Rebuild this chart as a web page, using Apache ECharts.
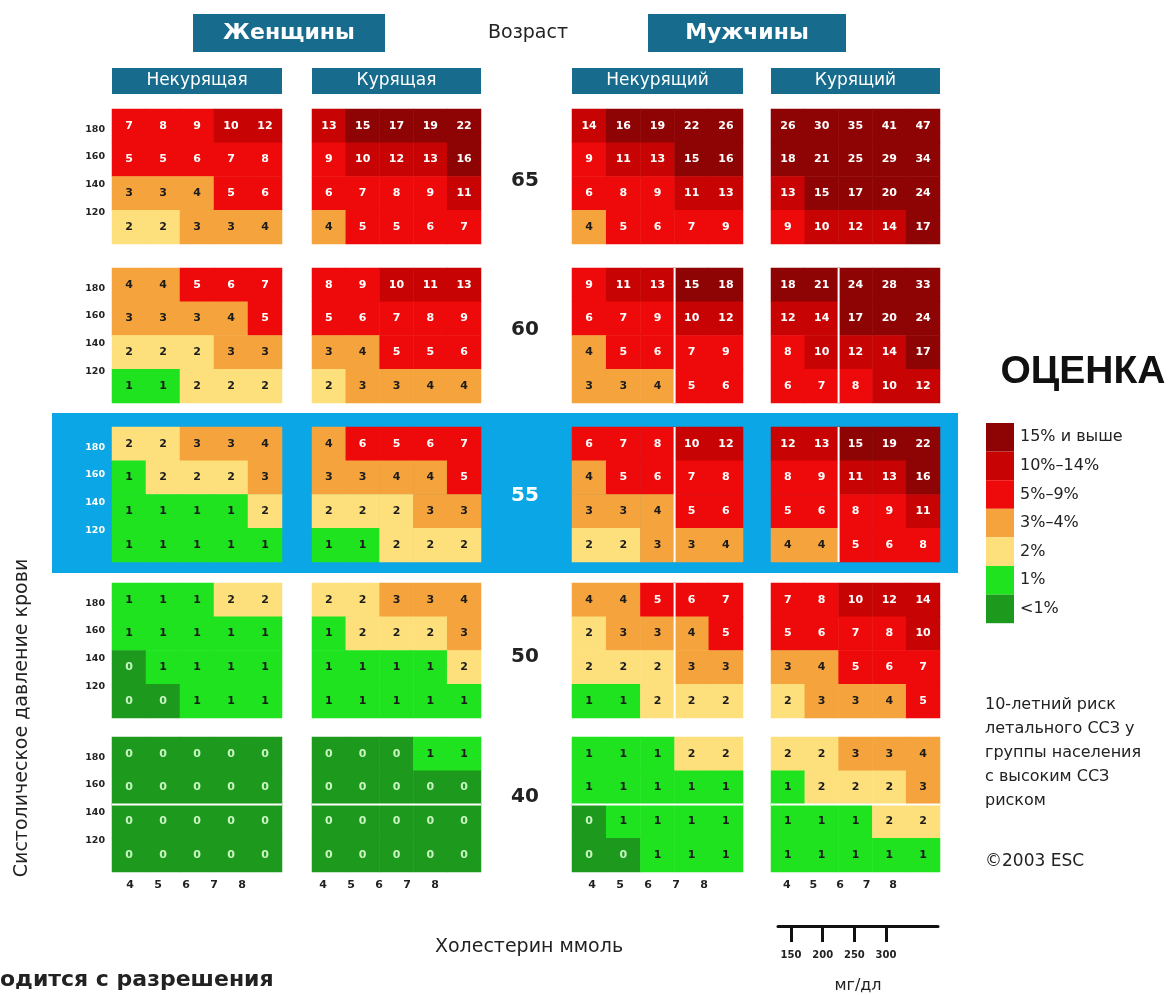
<!DOCTYPE html>
<html><head><meta charset="utf-8">
<script src="https://cdn.jsdelivr.net/npm/echarts@6/dist/echarts.min.js"></script>
<style>html,body{margin:0;padding:0;background:#fff}#c{width:1176px;height:995px}</style>
</head><body><div id="c"></div>
<script>
// ---------- data ----------
const ages = ['65', '60', '55', '50', '40'];
const sbpLevels = [180, 160, 140, 120];
const cholLevels = [4, 5, 6, 7, 8];
const mgdlLevels = [150, 200, 250, 300];
const sexNames = ['Женщины', 'Мужчины'];
const groupNames = ['Некурящая', 'Курящая', 'Некурящий', 'Курящий'];
const riskLabels = ['<1%', '1%', '2%', '3%–4%', '5%–9%', '10%–14%', '15% и выше'];

// rows: SBP 180,160,140,120 ; columns: cholesterol 4..8 ; blocks: ages 65,60,55,50,40
const womenNonSmoker = [
  [[7, 8, 9, 10, 12], [5, 5, 6, 7, 8], [3, 3, 4, 5, 6], [2, 2, 3, 3, 4]],
  [[4, 4, 5, 6, 7], [3, 3, 3, 4, 5], [2, 2, 2, 3, 3], [1, 1, 2, 2, 2]],
  [[2, 2, 3, 3, 4], [1, 2, 2, 2, 3], [1, 1, 1, 1, 2], [1, 1, 1, 1, 1]],
  [[1, 1, 1, 2, 2], [1, 1, 1, 1, 1], [0, 1, 1, 1, 1], [0, 0, 1, 1, 1]],
  [[0, 0, 0, 0, 0], [0, 0, 0, 0, 0], [0, 0, 0, 0, 0], [0, 0, 0, 0, 0]]
];
const womenSmoker = [
  [[13, 15, 17, 19, 22], [9, 10, 12, 13, 16], [6, 7, 8, 9, 11], [4, 5, 5, 6, 7]],
  [[8, 9, 10, 11, 13], [5, 6, 7, 8, 9], [3, 4, 5, 5, 6], [2, 3, 3, 4, 4]],
  [[4, 6, 5, 6, 7], [3, 3, 4, 4, 5], [2, 2, 2, 3, 3], [1, 1, 2, 2, 2]],
  [[2, 2, 3, 3, 4], [1, 2, 2, 2, 3], [1, 1, 1, 1, 2], [1, 1, 1, 1, 1]],
  [[0, 0, 0, 1, 1], [0, 0, 0, 0, 0], [0, 0, 0, 0, 0], [0, 0, 0, 0, 0]]
];
const menNonSmoker = [
  [[14, 16, 19, 22, 26], [9, 11, 13, 15, 16], [6, 8, 9, 11, 13], [4, 5, 6, 7, 9]],
  [[9, 11, 13, 15, 18], [6, 7, 9, 10, 12], [4, 5, 6, 7, 9], [3, 3, 4, 5, 6]],
  [[6, 7, 8, 10, 12], [4, 5, 6, 7, 8], [3, 3, 4, 5, 6], [2, 2, 3, 3, 4]],
  [[4, 4, 5, 6, 7], [2, 3, 3, 4, 5], [2, 2, 2, 3, 3], [1, 1, 2, 2, 2]],
  [[1, 1, 1, 2, 2], [1, 1, 1, 1, 1], [0, 1, 1, 1, 1], [0, 0, 1, 1, 1]]
];
const menSmoker = [
  [[26, 30, 35, 41, 47], [18, 21, 25, 29, 34], [13, 15, 17, 20, 24], [9, 10, 12, 14, 17]],
  [[18, 21, 24, 28, 33], [12, 14, 17, 20, 24], [8, 10, 12, 14, 17], [6, 7, 8, 10, 12]],
  [[12, 13, 15, 19, 22], [8, 9, 11, 13, 16], [5, 6, 8, 9, 11], [4, 4, 5, 6, 8]],
  [[7, 8, 10, 12, 14], [5, 6, 7, 8, 10], [3, 4, 5, 6, 7], [2, 3, 3, 4, 5]],
  [[2, 2, 3, 3, 4], [1, 2, 2, 2, 3], [1, 1, 1, 2, 2], [1, 1, 1, 1, 1]]
];
const noteLines = ['10-летний риск', 'летального ССЗ у', 'группы населения', 'с высоким ССЗ', 'риском'];

// ---------- layout / style ----------
const FONT = 'DejaVu Sans';
const groupData = [womenNonSmoker, womenSmoker, menNonSmoker, menSmoker];
const groupLeft = [112, 312, 572, 771];
const groupWidth = [170, 169, 171, 169];
const ageTop = [109, 268, 427, 583, 737];
const blockH = 135;
const xLabelRange = [[3.357, 9.43], [3.607, 9.64], [3.286, 9.39], [3.4, 9.77]];
const yLabelRange = [96.9, 194.5];
const highlightAge = 2;
const teal = '#176b8c';
const bandBlue = '#0aa6e6';
const colors = ['#1d9a1d', '#1fe31f', '#fde07c', '#f5a33c', '#ee0a0a', '#c70303', '#8e0303'];

function textColor(v) {
  if (v >= 5) return '#ffffff';
  if (v === 0) return '#c8f5c0';
  return '#1b1b1b';
}

const grids = [], xAxes = [], yAxes = [], series = [];
ages.forEach((age, a) => {
  groupData.forEach((gd, g) => {
    const idx = a * 4 + g;
    grids.push({ left: groupLeft[g], top: ageTop[a], width: groupWidth[g], height: blockH, outerBoundsMode: 'none' });
    xAxes.push({ type: 'category', gridIndex: idx, position: 'top', data: cholLevels.map(String), show: false });
    yAxes.push({ type: 'category', gridIndex: idx, position: 'right', data: sbpLevels.map(String), inverse: true, show: false });
    const data = [];
    gd[a].forEach((row, r) => row.forEach((v, c) => {
      data.push({ value: [c, r, v], label: { color: textColor(v) } });
    }));
    series.push({
      type: 'heatmap', xAxisIndex: idx, yAxisIndex: idx, data: data,
      label: { show: true, fontSize: 11, fontWeight: 'bold', fontFamily: FONT },
      itemStyle: { borderWidth: 0 }, emphasis: { disabled: true }, progressive: 0, z: 2
    });
  });
});

// tick-label axes
groupLeft.forEach((l, g) => {
  xAxes.push({
    type: 'value', gridIndex: 16 + g, position: 'bottom', min: xLabelRange[g][0], max: xLabelRange[g][1],
    axisLine: { show: false }, axisTick: { show: false }, splitLine: { show: false },
    axisLabel: { customValues: cholLevels, fontSize: 11, fontWeight: 'bold', color: '#222', margin: 8, fontFamily: FONT }
  });
});
ages.forEach((age, a) => {
  yAxes.push({
    type: 'value', gridIndex: a * 4, position: 'left', min: yLabelRange[0], max: yLabelRange[1],
    axisLine: { show: false }, axisTick: { show: false }, splitLine: { show: false },
    axisLabel: { customValues: sbpLevels, fontSize: 9.5, fontWeight: 'bold', color: a === highlightAge ? '#ffffff' : '#222', margin: 7, fontFamily: FONT }
  });
});

// mg/dl scale
grids.push({ left: 778, top: 925, width: 160, height: 1, outerBoundsMode: 'none' });
xAxes.push({
  type: 'value', gridIndex: 20, min: 129.5, max: 382, position: 'bottom',
  axisLine: { show: true, lineStyle: { color: '#111', width: 3 } },
  axisTick: { show: true, customValues: mgdlLevels, length: 16, lineStyle: { color: '#111', width: 3 } },
  splitLine: { show: false },
  axisLabel: { customValues: mgdlLevels, fontSize: 10, fontWeight: 'bold', color: '#222', margin: 24, fontFamily: FONT },
  name: 'мг/дл', nameLocation: 'middle', nameGap: 52,
  nameTextStyle: { fontSize: 16, color: '#222', fontFamily: FONT }
});
yAxes.push({ type: 'value', gridIndex: 20, show: false });

// decorations / texts
const gfx = [];
gfx.push({ type: 'rect', z: 0, shape: { x: 52, y: 413, width: 906, height: 160 }, style: { fill: bandBlue } });
const sexBoxes = [[193, 192], [648, 198]];
sexNames.forEach((s, i) => {
  gfx.push({ type: 'rect', z: 1, shape: { x: sexBoxes[i][0], y: 14, width: sexBoxes[i][1], height: 38 }, style: { fill: teal } });
  gfx.push({ type: 'text', z: 5, x: sexBoxes[i][0] + sexBoxes[i][1] / 2, y: 33,
    style: { text: s, fill: '#fff', font: 'bold 22px ' + FONT, textAlign: 'center', textVerticalAlign: 'middle' } });
});
gfx.push({ type: 'text', z: 5, x: 528, y: 33, style: { text: 'Возраст', fill: '#222', font: '19px ' + FONT, textAlign: 'center', textVerticalAlign: 'middle' } });
groupNames.forEach((n, g) => {
  gfx.push({ type: 'rect', z: 1, shape: { x: groupLeft[g], y: 68, width: groupWidth[g], height: 26 }, style: { fill: teal } });
  gfx.push({ type: 'text', z: 5, x: groupLeft[g] + groupWidth[g] / 2, y: 81,
    style: { text: n, fill: '#fff', font: '17px ' + FONT, textAlign: 'center', textVerticalAlign: 'middle' } });
});
const ageLabelY = [181, 330, 496, 657, 797];
ages.forEach((age, a) => {
  gfx.push({ type: 'text', z: 5, x: 525, y: ageLabelY[a],
    style: { text: age, fill: a === highlightAge ? '#ffffff' : '#222', font: 'bold 20px ' + FONT, textAlign: 'center', textVerticalAlign: 'middle' } });
});
gfx.push({ type: 'text', z: 5, x: 22, y: 718, rotation: Math.PI / 2,
  style: { text: 'Систолическое давление крови', fill: '#222', font: '19px ' + FONT, textAlign: 'center', textVerticalAlign: 'middle' } });
gfx.push({ type: 'text', z: 5, x: 529, y: 947,
  style: { text: 'Холестерин ммоль', fill: '#222', font: '19px ' + FONT, textAlign: 'center', textVerticalAlign: 'middle' } });
gfx.push({ type: 'text', z: 5, x: 1083, y: 372,
  style: { text: 'ОЦЕНКА', fill: '#111', font: 'bold 39px Liberation Sans', textAlign: 'center', textVerticalAlign: 'middle' } });
noteLines.forEach((t, i) => {
  gfx.push({ type: 'text', z: 5, x: 985, y: 705 + i * 24,
    style: { text: t, fill: '#222', font: '16px ' + FONT, textAlign: 'left', textVerticalAlign: 'middle' } });
});
gfx.push({ type: 'text', z: 5, x: 985, y: 862, style: { text: '©2003 ESC', fill: '#222', font: '17px ' + FONT, textAlign: 'left', textVerticalAlign: 'middle' } });
gfx.push({ type: 'text', z: 5, x: 0, y: 980, style: { text: 'одится с разрешения', fill: '#222', font: 'bold 22px ' + FONT, textAlign: 'left', textVerticalAlign: 'middle' } });

const pieces = [
  { lt: 1, label: riskLabels[0], color: colors[0] },
  { value: 1, label: riskLabels[1], color: colors[1] },
  { value: 2, label: riskLabels[2], color: colors[2] },
  { gte: 3, lte: 4, label: riskLabels[3], color: colors[3] },
  { gte: 5, lte: 9, label: riskLabels[4], color: colors[4] },
  { gte: 10, lte: 14, label: riskLabels[5], color: colors[5] },
  { gte: 15, label: riskLabels[6], color: colors[6] }
];

const chart = echarts.init(document.getElementById('c'), null, { renderer: 'canvas' });
chart.setOption({
  animation: false,
  backgroundColor: '#ffffff',
  grid: grids, xAxis: xAxes, yAxis: yAxes, series: series,
  visualMap: {
    type: 'piecewise', seriesIndex: series.map((s, i) => i), dimension: 2,
    pieces: pieces, orient: 'vertical', left: 986, top: 423, padding: 0,
    itemWidth: 28, itemHeight: 28.6, itemGap: 0, itemSymbol: 'rect', textGap: 6,
    align: 'left', selectedMode: false, hoverLink: false,
    textStyle: { fontSize: 16, color: '#222', fontFamily: FONT }
  },
  graphic: { elements: gfx }
});

// white separators between blocks of cells, placed through the axes' own scales
const separators = [
  { a: 1, g: 2, v: 2 }, { a: 2, g: 2, v: 2 }, { a: 3, g: 2, v: 2 },
  { a: 1, g: 3, v: 1 }, { a: 2, g: 3, v: 1 },
  { a: 4, g: 0, h: 1 }, { a: 4, g: 1, h: 1 }, { a: 4, g: 2, h: 1 }, { a: 4, g: 3, h: 1 }
];
const sepGfx = [];
separators.forEach(s => {
  const idx = s.a * 4 + s.g;
  if (s.v !== undefined) {
    const p1 = chart.convertToPixel({ xAxisIndex: idx }, s.v);
    const p2 = chart.convertToPixel({ xAxisIndex: idx }, s.v + 1);
    const x = (p1 + p2) / 2;
    sepGfx.push({ type: 'line', z: 10, shape: { x1: x, y1: ageTop[s.a], x2: x, y2: ageTop[s.a] + blockH }, style: { stroke: '#ffffff', lineWidth: 2 } });
  } else {
    const p1 = chart.convertToPixel({ yAxisIndex: idx }, s.h);
    const p2 = chart.convertToPixel({ yAxisIndex: idx }, s.h + 1);
    const y = (p1 + p2) / 2;
    sepGfx.push({ type: 'line', z: 10, shape: { x1: groupLeft[s.g], y1: y, x2: groupLeft[s.g] + groupWidth[s.g], y2: y }, style: { stroke: '#ffffff', lineWidth: 2 } });
  }
});
chart.setOption({ graphic: { elements: gfx.concat(sepGfx) } });
</script>
</body></html>
